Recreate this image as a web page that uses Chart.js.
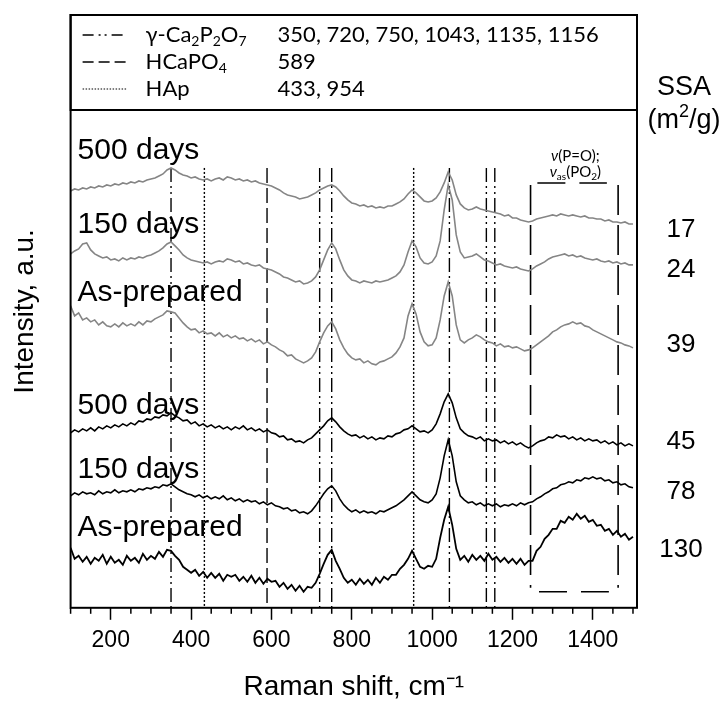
<!DOCTYPE html>
<html><head><meta charset="utf-8">
<script src="https://cdn.jsdelivr.net/npm/chart.js@4.4.1/dist/chart.umd.min.js"></script>
<style>html,body{margin:0;padding:0;background:#fff;}#wrap{width:727px;height:704px;position:relative;}canvas{display:block;}</style>
</head><body><div id="wrap"><canvas id="c" width="727" height="704" style="width:727px;height:704px"></canvas></div>
<script>
// ---------------- DATA ----------------
const ramanShift = [100,110,120,130,140,150,160,170,180,190,200,210,220,230,240,250,260,270,280,290,
300,310,320,330,340,350,360,370,380,390,400,410,420,430,440,450,460,470,480,490,
500,510,520,530,540,550,560,570,580,590,600,610,620,630,640,650,660,670,680,690,
700,710,720,730,740,750,760,770,780,790,800,810,820,830,840,850,860,870,880,890,
900,910,920,930,940,950,960,970,980,990,1000,1010,1020,1030,1040,1050,1060,1070,1080,1090,
1100,1110,1120,1130,1140,1150,1160,1170,1180,1190,1200,1210,1220,1230,1240,1250,1260,1270,1280,1290,
1300,1310,1320,1330,1340,1350,1360,1370,1380,1390,1400,1410,1420,1430,1440,1450,1460,1470,1480,1490,1500];

// stacked (offset) intensities, a.u.
const gray500 = [417,419,418,420,419,421,420,422,421,423,
422,424,423,425,424,426,425,427,426,428,
429,430,432,434,438,440,438,435,433,432,
430,431,429,428,429,427,429,430,428,431,
430,428,429,427,428,426,427,425,424,423,
422,420,418,415,413,412,411,409,410,411,
413,415,418,420,422,423,421,417,412,408,
405,404,402,403,401,402,400,401,400,402,
402,404,406,409,414,418,415,411,407,406,
407,410,416,425,436,428,413,404,400,398,
399,401,399,398,397,396,395,394,392,393,
390,390,388,387,386,387,389,390,391,392,
393,392,394,393,392,393,392,391,392,390,
390,389,389,387,388,386,386,385,386,384,
384];
const gray150 = [354,357,359,364,365,358,354,352,350,351,
348,349,347,350,348,350,349,351,350,352,
353,355,357,360,364,366,362,358,353,350,
348,347,346,345,346,344,346,347,346,349,
348,346,347,344,345,343,342,343,340,339,
338,336,334,331,330,328,326,327,324,325,
327,331,338,348,358,365,359,348,338,332,
328,327,325,327,326,325,327,326,327,328,
330,332,336,343,356,367,361,350,345,344,
346,352,367,398,423,408,373,356,350,351,
352,354,351,348,347,345,343,344,342,341,
340,341,339,338,337,339,342,344,346,349,
351,352,353,354,352,353,351,352,350,349,
348,349,347,346,347,345,346,344,345,343,
343];
const grayAsPrepared = [302,292,295,288,290,286,288,283,286,282,
281,284,281,285,282,284,282,286,283,287,
286,289,291,293,297,296,295,290,285,281,
278,279,275,277,274,275,272,275,271,273,
270,272,269,270,267,269,266,268,264,266,
263,261,258,256,252,253,249,247,245,247,
250,256,266,275,282,286,279,268,260,254,
250,248,249,245,247,244,243,246,247,249,
251,255,261,270,292,304,294,276,266,262,
263,270,288,312,326,312,283,268,265,268,
270,273,271,268,266,265,262,264,261,262,
260,261,259,257,258,260,263,266,269,272,
276,278,281,283,284,286,284,285,282,281,
278,276,274,272,270,268,266,265,263,262,
260];
const black500 = [175,178,176,179,177,180,177,181,179,182,
180,183,181,184,182,185,183,187,186,189,
188,191,190,193,192,195,192,190,187,188,
184,186,182,184,181,183,180,182,179,181,
178,181,179,182,178,180,177,179,176,178,
175,174,171,172,168,169,166,167,165,168,
170,174,178,182,187,190,186,181,177,174,
172,173,170,172,169,171,168,170,169,172,
171,174,175,178,179,182,179,176,177,175,
178,184,194,206,214,205,190,179,175,172,
171,169,171,167,169,167,168,165,167,164,
166,163,165,162,160,162,165,167,168,171,
170,173,171,172,169,171,168,170,167,169,
167,168,165,167,164,166,163,165,162,164,
162];
const black150 = [112,115,113,116,114,115,113,117,114,116,
115,118,115,117,116,118,116,119,118,120,
119,121,120,123,122,124,121,118,116,114,
113,111,113,110,112,109,111,109,112,108,
110,107,109,106,108,106,107,104,106,103,
105,102,101,99,100,97,98,95,96,94,
97,102,108,114,119,122,117,109,103,99,
96,98,95,97,95,96,94,97,96,98,
100,102,105,108,112,116,112,108,106,105,
108,114,130,152,168,152,126,112,108,105,
106,103,105,102,104,102,104,101,103,102,
104,102,105,103,105,106,109,111,114,116,
119,120,123,124,126,125,128,127,130,129,
131,129,130,127,128,125,126,123,124,121,
120];
const blackAsPrepared = [60,49,52,46,51,44,50,47,53,44,
51,45,48,43,52,47,50,45,54,48,
52,49,56,51,58,57,52,48,41,38,
35,38,32,36,30,35,30,34,27,33,
31,33,27,31,26,32,25,30,24,29,
26,27,21,25,19,23,17,22,16,21,
20,25,34,44,53,58,47,39,30,25,
28,23,29,24,28,23,30,25,31,28,
33,33,39,43,49,57,49,41,39,42,
41,49,70,88,101,83,59,48,52,46,
53,48,52,47,54,48,51,46,50,45,
49,44,49,43,47,47,57,61,69,73,
79,79,87,85,91,88,94,89,92,86,
88,82,83,77,79,73,77,71,74,68,
71];

const sampleLabels = ['500 days','150 days','As-prepared','500 days','150 days','As-prepared'];
const ssaValues = [17, 24, 39, 45, 78, 130];

const gammaCa2P2O7Peaks = [350, 720, 750, 1043, 1135, 1156];
const hcapo4Peaks = [589];
const hapPeaks = [433, 954];
const poBandEdges = [1245, 1463];
const markerSpan = [440, 0];        // a.u. top / bottom of peak markers
const bandEdgeSpan = [423, 20];
const bandBracketTop = {from: 1262, to: 1435, level: 425};
const bandBracketBottom = {from: 1266, to: 1440, level: 16};

const xTickLabels = [200, 400, 600, 800, 1000, 1200, 1400];
const xMinorTicks = [100,150,250,300,350,450,500,550,650,700,750,850,900,950,1050,1100,1150,1250,1300,1350,1450,1500];

// ---------------- CHART ----------------
const SANS = "'Liberation Sans', Arial, sans-serif";
const CAL = "Lato, 'Open Sans', sans-serif";
Chart.defaults.font.family = SANS;
Chart.defaults.color = '#000';
const GRAY = '#858585';

const seriesList = [gray500, gray150, grayAsPrepared, black500, black150, blackAsPrepared];
const datasets = seriesList.map((arr, i) => ({
  label: sampleLabels[i],
  data: ramanShift.map((x, j) => ({x, y: arr[j]})),
  borderColor: i < 3 ? GRAY : '#000',
  borderWidth: i === 5 ? 1.8 : 1.6, pointRadius: 0, tension: 0, fill: false
}));
function vLines(peaks, span, dash, lw) {
  peaks.forEach(p => datasets.push({
    label: 'marker', data: [{x: p, y: span[0]}, {x: p, y: span[1]}],
    borderColor: '#000', borderWidth: lw, borderDash: dash, pointRadius: 0, fill: false
  }));
}
vLines(gammaCa2P2O7Peaks, markerSpan, [14, 4, 2, 4, 2, 4], 1.4);
vLines(hcapo4Peaks, markerSpan, [15, 5], 1.4);
vLines(hapPeaks, markerSpan, [2, 2], 1.4);
vLines(poBandEdges, bandEdgeSpan, [30, 10], 1.6);
[bandBracketTop, bandBracketBottom].forEach(b => datasets.push({
  label: 'bracket', data: [{x: b.from, y: b.level}, {x: b.to, y: b.level}],
  borderColor: '#000', borderWidth: 1.6, borderDash: [28, 14], pointRadius: 0, fill: false
}));

function rich(ctx, parts, x, y, size, family, align) {
  const f = k => `${k === 'it' ? 'italic ' : ''}${(k === 'sub' || k === 'sup') ? Math.round(size * 0.65) : size}px ${family}`;
  let w = 0;
  parts.forEach(([t, k]) => { ctx.font = f(k); w += ctx.measureText(t).width; });
  let cx = align === 'center' ? x - w / 2 : x;
  ctx.textBaseline = 'alphabetic'; ctx.textAlign = 'left';
  parts.forEach(([t, k]) => {
    ctx.font = f(k);
    const dy = k === 'sub' ? size * 0.22 : (k === 'sup' ? -size * 0.4 : 0);
    ctx.fillText(t, cx, y + dy);
    cx += ctx.measureText(t).width;
  });
}

const decor = {
  id: 'decor',
  afterDatasetsDraw(chart) {
    const {ctx, chartArea: a, scales: {x}} = chart;
    ctx.save();
    ctx.strokeStyle = '#000'; ctx.fillStyle = '#000';
    ctx.lineWidth = 1.5;
    xMinorTicks.forEach(v => {
      const px = x.getPixelForValue(v);
      ctx.beginPath(); ctx.moveTo(px, a.bottom); ctx.lineTo(px, a.bottom + 6); ctx.stroke();
    });
    const boxB = a.top + 95;
    ctx.fillStyle = '#fff'; ctx.fillRect(a.left, a.top, a.right - a.left, boxB - a.top);
    ctx.fillStyle = '#000';
    ctx.lineWidth = 2;
    ctx.strokeRect(a.left, a.top, a.right - a.left, boxB - a.top);
    ctx.strokeRect(a.left, a.top, a.right - a.left, a.bottom - a.top);
    const rows = [
      {dash: [11, 5, 2, 4, 2, 5], name: [['γ-Ca', 'n'], ['2', 'sub'], ['P', 'n'], ['2', 'sub'], ['O', 'n'], ['7', 'sub']], vals: gammaCa2P2O7Peaks},
      {dash: [11, 5], name: [['HCaPO', 'n'], ['4', 'sub']], vals: hcapo4Peaks},
      {dash: [1.5, 1.5], name: [['HAp', 'n']], vals: hapPeaks}
    ];
    rows.forEach((r, i) => {
      const cy = a.top + 19 + i * 27;
      ctx.save(); ctx.lineWidth = r.dash[0] < 2 ? 1.2 : 1.5; ctx.setLineDash(r.dash);
      ctx.beginPath(); ctx.moveTo(a.left + 12, cy + 1); ctx.lineTo(a.left + 57, cy + 1); ctx.stroke();
      ctx.restore();
      rich(ctx, r.name, a.left + 75, cy + 7.5, 22, CAL, 'left');
      rich(ctx, [[r.vals.join(', '), 'n']], a.left + 207, cy + 7.5, 22, CAL, 'left');
    });
    const labelY = [148, 222, 290, 403, 467, 525];
    ctx.font = `30px ${SANS}`; ctx.textAlign = 'left'; ctx.textBaseline = 'alphabetic';
    sampleLabels.forEach((t, i) => ctx.fillText(t, a.left + 7, labelY[i] + 10.7));
    ctx.textAlign = 'center';
    ctx.font = `27px ${SANS}`;
    ctx.fillText('SSA', 684, 95);
    rich(ctx, [['(m', 'n'], ['2', 'sup'], ['/g)', 'n']], 684, 128, 27, SANS, 'center');
    const ssaY = [228, 268, 343, 440, 490, 548];
    ctx.font = `26px ${SANS}`; ctx.textAlign = 'center';
    ssaValues.forEach((v, i) => ctx.fillText(String(v), 681, ssaY[i] + 9.3));
    const bx = x.getPixelForValue((poBandEdges[0] + poBandEdges[1]) / 2) + 1;
    rich(ctx, [['ν', 'it'], ['(P=O);', 'n']], bx, 161, 15, CAL, 'center');
    rich(ctx, [['ν', 'it'], ['as', 'sub'], ['(PO', 'n'], ['2', 'sub'], [')', 'n']], bx, 177, 15, CAL, 'center');
    ctx.restore();
  }
};

new Chart(document.getElementById('c'), {
  type: 'line',
  data: {datasets},
  options: {
    responsive: false, animation: false, devicePixelRatio: 1,
    layout: {padding: {left: 0, right: 90, top: 15, bottom: 0}},
    plugins: {legend: {display: false}, tooltip: {enabled: false}},
    scales: {
      x: {
        type: 'linear', min: 100, max: 1510,
        afterBuildTicks: s => { s.ticks = xTickLabels.map(v => ({value: v})); },
        ticks: {callback: v => String(v), font: {size: 23}, color: '#000', padding: 7, maxRotation: 0, autoSkip: false},
        grid: {display: true, drawOnChartArea: false, drawTicks: true, tickLength: 12, tickColor: '#000', tickWidth: 1.5, color: '#000'},
        border: {display: false},
        title: {display: true, text: 'Raman shift, cm⁻¹', font: {size: 28}, color: '#000', padding: {top: 9, bottom: 0}}
      },
      y: {
        min: 0, max: 593,
        ticks: {display: false},
        grid: {display: false, drawTicks: false},
        border: {display: false},
        title: {display: true, text: 'Intensity, a.u.', font: {size: 28}, color: '#000', padding: {top: 8, bottom: 29}}
      }
    }
  },
  plugins: [decor]
});
</script>
</body></html>
